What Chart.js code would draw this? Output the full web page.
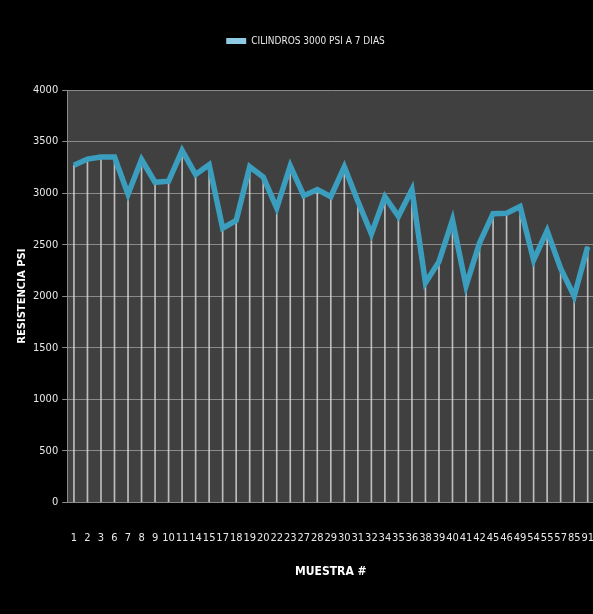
<!DOCTYPE html>
<html>
<head>
<meta charset="utf-8">
<script src="https://cdn.jsdelivr.net/npm/chart.js@4.4.0/dist/chart.umd.min.js"></script>
<style>
  html, body { margin: 0; padding: 0; background: #000; overflow: hidden; }
  #wrap { width: 596px; height: 614px; }
</style>
</head>
<body>
<div id="wrap"><canvas id="myChart" width="596" height="614"></canvas></div>
<script>
'use strict';
// sample numbers on the x axis
let muestras = ['1','2','3','6','7','8','9','10','11','14','15','17','18','19','20','22','23','27','28','29','30','31','32','34','35','36','38','39','40','41','42','45','46','49','54','55','57','85','91'];
// strength at 7 days, psi
let resistencia = [3270,3330,3350,3350,2990,3325,3105,3115,3415,3180,3275,2660,2735,3255,3155,2855,3265,2975,3035,2965,3255,2920,2605,2965,2775,3035,2130,2335,2740,2100,2515,2800,2805,2870,2350,2635,2270,2000,2480];
let yTicks = [0,500,1000,1500,2000,2500,3000,3500,4000];
let serieName = 'CILINDROS 3000 PSI A 7 DIAS';

let narrow = "'DejaVu Sans Condensed', 'Liberation Sans Narrow', 'Liberation Sans', sans-serif";

let plotBg = {
  id: 'plotBg',
  beforeDraw(chart) {
    let a = chart.chartArea;
    let ctx = chart.ctx;
    ctx.save();
    ctx.fillStyle = '#404040';
    ctx.fillRect(a.left, a.top, a.right - a.left, a.bottom - a.top);
    ctx.restore();
  }
};

let legendGap = {
  id: 'legendGap',
  beforeInit(chart) {
    let fit = chart.legend.fit;
    chart.legend.fit = function() {
      fit.bind(chart.legend)();
      this.height += 34;
    };
  }
};

let ctx = document.getElementById('myChart').getContext('2d');
let myChart = new Chart(ctx, {
  data: {
    labels: muestras,
    datasets: [{
      type: 'line',
      label: serieName,
      data: resistencia,
      borderColor: '#3b9ebe',
      backgroundColor: '#8ecbe2',
      borderWidth: 5.5,
      pointRadius: 0,
      tension: 0,
      order: 0
    },
    {
      // drop lines from every point to the axis
      type: 'bar',
      label: 'drop',
      data: resistencia,
      backgroundColor: 'rgba(220,220,220,0.8)',
      barThickness: 1,
      order: 1
    }]
  },
  options: {
    responsive: false,
    animation: false,
    layout: { padding: { top: 30, left: 16, right: 1, bottom: 35 } },
    plugins: {
      tooltip: { enabled: false },
      legend: {
        position: 'top',
        labels: {
          color: '#e8e8e8',
          font: { family: narrow, size: 10 },
          boxWidth: 20,
          boxHeight: 6,
          padding: 6,
          filter: (item) => item.text !== 'drop',
          generateLabels(chart) {
            let items = Chart.defaults.plugins.legend.labels.generateLabels(chart);
            items.forEach(it => { it.strokeStyle = it.fillStyle; it.lineWidth = 0; });
            return items;
          }
        }
      }
    },
    scales: {
      x: {
        offset: true,
        grid: { display: true, drawOnChartArea: false, color: 'rgba(0,0,0,0)', tickLength: 27 },
        border: { display: true, color: '#8a8a8a' },
        ticks: {
          color: '#e8e8e8',
          font: { family: narrow, size: 11 },
          autoSkip: false,
          maxRotation: 0,
          padding: 2
        },
        title: {
          display: true,
          text: 'MUESTRA #',
          color: '#ffffff',
          font: { family: narrow, size: 12, weight: 'bold' },
          padding: { top: 18, bottom: 0 }
        }
      },
      y: {
        min: 0,
        max: 4000,
        afterBuildTicks(axis) { axis.ticks = yTicks.map(v => ({ value: v })); },
        grid: { color: '#8a8a8a', tickLength: 5 },
        border: { display: true, color: '#8a8a8a' },
        ticks: {
          color: '#e8e8e8',
          font: { family: narrow, size: 11 },
          padding: 4,
          callback: (v) => String(v)
        },
        title: {
          display: true,
          text: 'RESISTENCIA PSI',
          color: '#ffffff',
          font: { family: 'DejaVu Sans', size: 10, weight: 'bold' },
          padding: { top: 0, bottom: 1 }
        }
      }
    }
  },
  plugins: [plotBg, legendGap]
});
</script>
</body>
</html>
